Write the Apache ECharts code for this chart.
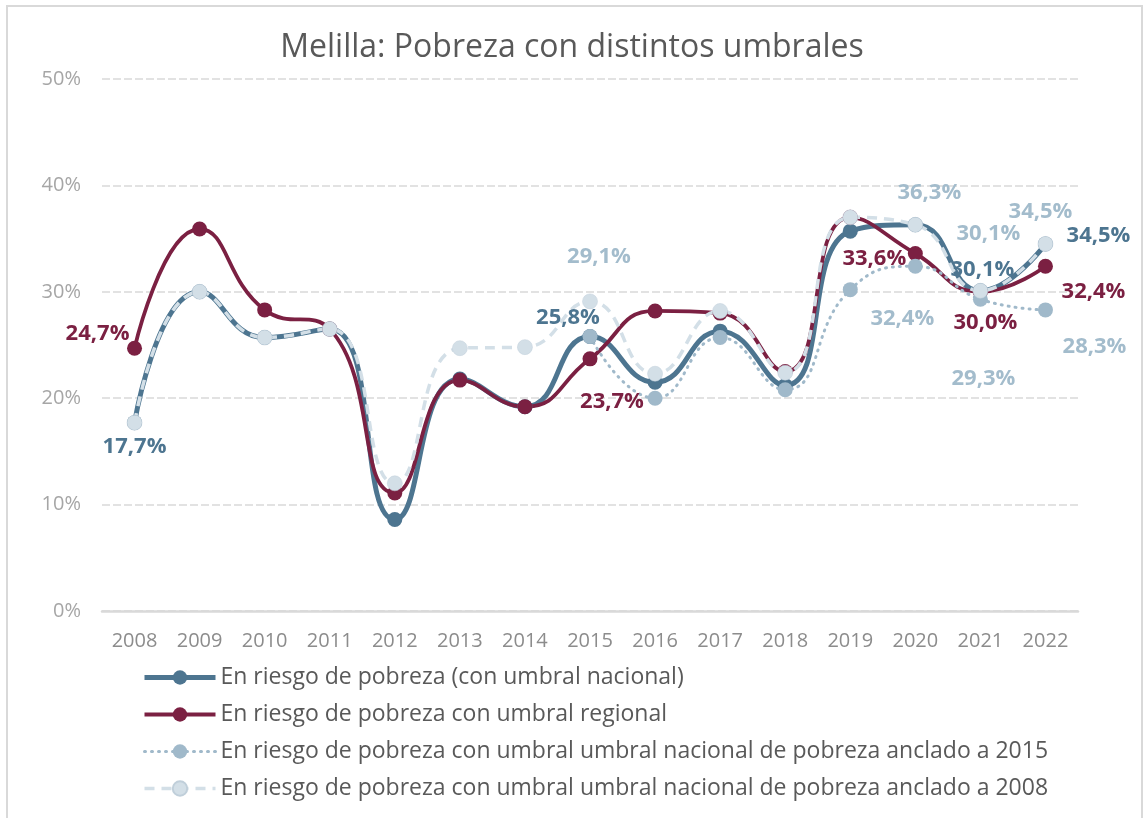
<!DOCTYPE html>
<html lang="es">
<head>
    <meta charset="UTF-8">
    <title>Melilla: Pobreza con distintos umbrales</title>
    <style>
        body { margin: 0; background: #fff; }
    </style>
</head>
<script src="https://cdn.jsdelivr.net/npm/echarts@6/dist/echarts.min.js"></script>
<body>
<div id="main" style="height: 818px;width: 1144px"></div>
<script type="text/javascript">
    // datos
    var years = ['2008', '2009', '2010', '2011', '2012', '2013', '2014', '2015',
        '2016', '2017', '2018', '2019', '2020', '2021', '2022']
    var nacional = [17.7, 30.0, 25.7, 26.5, 8.6, 21.8, 19.2, 25.8, 21.5, 26.3, 21.2, 35.7, 36.3, 30.1, 34.5]
    var regional = [24.7, 35.9, 28.3, 26.5, 11.1, 21.7, 19.2, 23.7, 28.2, 28.0, 22.5, 37.0, 33.6, 30.0, 32.4]
    var anclado2015 = [null, null, null, null, null, null, null, 25.8, 20.0, 25.7, 20.8, 30.2, 32.4, 29.3, 28.3]
    var anclado2008 = [17.7, 30.0, 25.7, 26.5, 12.0, 24.7, 24.8, 29.1, 22.3, 28.2, 22.4, 37.0, 36.3, 30.1, 34.5]
    var yTicks = [0, 10, 20, 30, 40, 50]

    var names = [
        'En riesgo de pobreza (con umbral nacional)',
        'En riesgo de pobreza con umbral regional',
        'En riesgo de pobreza con umbral umbral nacional de pobreza anclado a 2015',
        'En riesgo de pobreza con umbral umbral nacional de pobreza anclado a 2008'
    ]
    var colors = ['#4d7590', '#7b2042', '#a0b9ca', '#d3dfe7']
    var widths = [5, 3.8, 3, 3.5]

    // etiquetas visibles: índice -> desplazamiento respecto al punto
    var labelOffsets = [
        {0: [0, 24], 7: [-22, -19], 13: [2, -21], 14: [53, -8]},
        {0: [-37, -14], 7: [22, 43], 12: [-41, 5], 13: [5, 31], 14: [48, 25]},
        {12: [-13, 52], 13: [3, 79], 14: [49, 37]},
        {7: [9, -45], 12: [14, -32], 13: [8, -57], 14: [-5, -32]}
    ]
    var labelColors = ['#4d7590', '#7b2042', '#a3bccc', '#a3bccc']
    var font = 'Open Sans'

    function fmt(v) {
        return v.toFixed(1).replace('.', ',') + '%'
    }

    function buildData(values, k) {
        return values.map(function (v, i) {
            var item = {value: v}
            var off = labelOffsets[k][i]
            if (off && v != null) {
                item.label = {
                    show: true,
                    position: 'inside',
                    offset: off,
                    formatter: fmt(v),
                    color: labelColors[k],
                    fontSize: 22,
                    fontWeight: 'bold',
                    fontFamily: font
                }
            }
            return item
        })
    }

    var myChart = echarts.init(document.getElementById('main'))
    var option = {
        animation: false,
        textStyle: {fontFamily: font},
        title: {
            text: 'Melilla: Pobreza con distintos umbrales',
            left: 'center',
            top: 27,
            textStyle: {
                color: '#595959',
                fontSize: 32,
                fontWeight: 'normal',
                fontFamily: font
            }
        },
        graphic: [{
            type: 'rect',
            shape: {x: 7, y: 6, width: 1135, height: 830},
            style: {fill: 'none', stroke: '#d9d9d9', lineWidth: 2},
            silent: true
        }],
        legend: {
            orient: 'vertical',
            left: 137,
            top: 661,
            itemWidth: 71,
            itemHeight: 18,
            itemGap: 14,
            data: names.map(function (n, k) {
                return {name: n, lineStyle: {width: widths[k]}}
            }),
            textStyle: {
                color: '#595959',
                fontSize: 23,
                lineHeight: 22,
                fontFamily: font
            }
        },
        grid: {
            left: 102,
            right: 66,
            top: 79,
            bottom: 207
        },
        xAxis: {
            type: 'category',
            data: years,
            boundaryGap: true,
            axisLine: {lineStyle: {color: '#d9d9d9', width: 2.5}},
            axisTick: {show: false},
            axisLabel: {color: '#8c8c8c', fontSize: 20, margin: 20, fontFamily: font}
        },
        yAxis: {
            type: 'value',
            min: yTicks[0],
            max: yTicks[yTicks.length - 1],
            interval: 10,
            axisLine: {show: false},
            axisTick: {show: false},
            axisLabel: {
                color: '#a6a6a6',
                fontSize: 20,
                margin: 21,
                fontFamily: font,
                formatter: '{value}%'
            },
            splitLine: {lineStyle: {color: '#d9d9d9', width: 1.7, type: [8, 3]}}
        },
        series: [{
            name: names[0],
            type: 'line',
            smooth: 0.5,
            data: buildData(nacional, 0),
            symbol: 'circle',
            symbolSize: 15,
            itemStyle: {color: colors[0]},
            lineStyle: {color: colors[0], width: widths[0]}
        }, {
            name: names[1],
            type: 'line',
            smooth: 0.5,
            data: buildData(regional, 1),
            symbol: 'circle',
            symbolSize: 15,
            itemStyle: {color: colors[1]},
            lineStyle: {color: colors[1], width: widths[1]}
        }, {
            name: names[2],
            type: 'line',
            smooth: 0.5,
            connectNulls: false,
            data: buildData(anclado2015, 2),
            symbol: 'circle',
            symbolSize: 15,
            itemStyle: {color: colors[2]},
            lineStyle: {color: colors[2], width: widths[2], type: [1, 6], cap: 'round'}
        }, {
            name: names[3],
            type: 'line',
            smooth: 0.5,
            data: buildData(anclado2008, 3),
            symbol: 'circle',
            symbolSize: 15,
            itemStyle: {color: colors[3], borderColor: '#c0cfda', borderWidth: 0.5},
            lineStyle: {color: colors[3], width: widths[3], type: [10, 7]}
        }]
    }
    myChart.setOption(option)
</script>

</body>
</html>
